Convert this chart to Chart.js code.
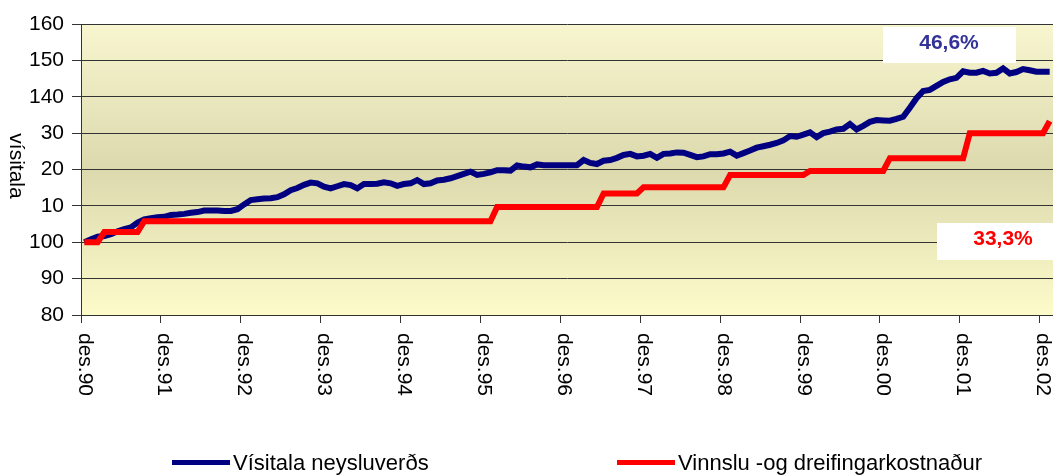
<!DOCTYPE html>
<html>
<head>
<meta charset="utf-8">
<script src="https://cdn.jsdelivr.net/npm/chart.js@4.4.1/dist/chart.umd.min.js"></script>
<style>
  body { margin: 0; background: #fff; }
  #wrap { position: relative; width: 1053px; height: 475px; }
  .leg { position: absolute; top: 450px; font: 22px "Liberation Sans", Arial, sans-serif; color: #000; white-space: nowrap; }
  .leg span.ln { display: inline-block; width: 58px; height: 5px; vertical-align: middle; margin-right: 3px; position: relative; top: -2px; }
</style>
</head>
<body>
<div id="wrap">
  <canvas id="chart" width="1053" height="475"></canvas>
  <div class="leg" style="left:172px"><span class="ln" style="background:#000080"></span>Vísitala neysluverðs</div>
  <div class="leg" style="left:617px"><span class="ln" style="background:#ff0000"></span>Vinnslu -og dreifingarkostnaður</div>
</div>
<script>
// months from des.90 to jan.03
const monthNames = ['jan', 'feb', 'mar', 'apr', 'maí', 'jún', 'júl', 'ágú', 'sep', 'okt', 'nóv', 'des'];
const firstYear = 1990;
const monthCount = 146;

// Vísitala neysluverðs (des.90 = 100)
const consumerIndex = [
  100.0, 100.8, 101.5, 101.7, 102.2, 103.0, 103.6, 104.1, 105.4, 106.3, 106.6, 106.9,
  107.0, 107.5, 107.6, 107.8, 108.1, 108.3, 108.7, 108.7, 108.7, 108.6, 108.6, 109.1,
  110.4, 111.6, 111.8, 112.0, 112.1, 112.4, 113.2, 114.3, 114.9, 115.8, 116.4, 116.2,
  115.3, 114.8, 115.4, 116.0, 115.7, 114.8, 116.0, 116.0, 116.1, 116.5, 116.2, 115.5,
  116.0, 116.2, 117.1, 116.0, 116.2, 117.0, 117.2, 117.6, 118.2, 118.8, 119.4, 118.5,
  118.8, 119.2, 119.8, 119.8, 119.7, 121.1, 120.8, 120.6, 121.4, 121.2, 121.2, 121.2,
  121.2, 121.2, 121.2, 122.6, 121.8, 121.5, 122.4, 122.6, 123.2, 124.0, 124.3, 123.6,
  123.8, 124.3, 123.2, 124.3, 124.4, 124.7, 124.6, 124.0, 123.4, 123.6, 124.2, 124.2,
  124.4, 124.9, 123.8, 124.5, 125.2, 126.0, 126.4, 126.8, 127.3, 128.0, 129.2, 129.0,
  129.6, 130.2, 128.9, 130.0, 130.4, 131.0, 131.2, 132.5, 131.0, 132.0, 133.1, 133.6,
  133.5, 133.4, 133.9, 134.5, 137.0, 139.6, 141.6, 141.9, 143.0, 144.1, 144.8, 145.2,
  147.0, 146.6, 146.6, 147.1, 146.4, 146.6, 147.8, 146.4, 146.8, 147.6, 147.3, 146.9,
  146.9, 146.9
];

// Vinnslu- og dreifingarkostnaður
const distributionCost = [
  100, 100, 100, 102.8, 102.8, 102.8, 102.8, 102.8, 102.8, 105.8, 105.8, 105.8,
  105.8, 105.8, 105.8, 105.8, 105.8, 105.8, 105.8, 105.8, 105.8, 105.8, 105.8, 105.8,
  105.8, 105.8, 105.8, 105.8, 105.8, 105.8, 105.8, 105.8, 105.8, 105.8, 105.8, 105.8,
  105.8, 105.8, 105.8, 105.8, 105.8, 105.8, 105.8, 105.8, 105.8, 105.8, 105.8, 105.8,
  105.8, 105.8, 105.8, 105.8, 105.8, 105.8, 105.8, 105.8, 105.8, 105.8, 105.8, 105.8,
  105.8, 105.8, 109.7, 109.7, 109.7, 109.7, 109.7, 109.7, 109.7, 109.7, 109.7, 109.7,
  109.7, 109.7, 109.7, 109.7, 109.7, 109.7, 113.4, 113.4, 113.4, 113.4, 113.4, 113.4,
  115.1, 115.1, 115.1, 115.1, 115.1, 115.1, 115.1, 115.1, 115.1, 115.1, 115.1, 115.1,
  115.1, 118.5, 118.5, 118.5, 118.5, 118.5, 118.5, 118.5, 118.5, 118.5, 118.5, 118.5,
  118.5, 119.6, 119.6, 119.6, 119.6, 119.6, 119.6, 119.6, 119.6, 119.6, 119.6, 119.6,
  119.6, 123.1, 123.1, 123.1, 123.1, 123.1, 123.1, 123.1, 123.1, 123.1, 123.1, 123.1,
  123.1, 130.0, 130.0, 130.0, 130.0, 130.0, 130.0, 130.0, 130.0, 130.0, 130.0, 130.0,
  130.0, 133.3
];

// y tick labels as they show on the original (the leading 1 is hidden)
const yTickText = { 160: '160', 150: '150', 140: '140', 130: '30', 120: '20', 110: '10', 100: '100', 90: '90', 80: '80' };
const blueNote = '46,6%';
const redNote = '33,3%';

const labels = [];
for (let i = 0; i < monthCount; i++) {
  const m = (11 + i) % 12;
  const y = firstYear + Math.floor((11 + i) / 12);
  labels.push(monthNames[m] + '.' + String(y).slice(2));
}

const FONT = '"Liberation Sans", Arial, sans-serif';

const decor = {
  id: 'decor',
  beforeDraw(chart) {
    const { ctx, chartArea: a } = chart;
    ctx.save();
    ctx.fillStyle = '#fff';
    ctx.fillRect(0, 0, chart.width, chart.height);
    const g = ctx.createLinearGradient(0, a.top, 0, a.bottom);
    g.addColorStop(0, '#f8f6cf');
    g.addColorStop(0.5, '#dcd9ae');
    g.addColorStop(1, '#fdfbca');
    ctx.fillStyle = g;
    ctx.fillRect(a.left, a.top, a.right - a.left, a.bottom - a.top);
    ctx.restore();
  },
  afterDraw(chart) {
    const { ctx } = chart;
    const xs = chart.scales.x;
    ctx.save();
    ctx.fillStyle = '#000';
    ctx.font = '21px ' + FONT;
    ctx.textAlign = 'left';
    ctx.textBaseline = 'middle';
    labels.forEach((lab, i) => {
      if (i % 12 !== 0) return;
      ctx.save();
      ctx.translate(xs.getPixelForValue(i), 333);
      ctx.rotate(Math.PI / 2);
      ctx.fillText(lab, 0, 0);
      ctx.restore();
    });
    // axis title
    ctx.save();
    ctx.translate(16, 166);
    ctx.rotate(Math.PI / 2);
    ctx.textAlign = 'center';
    ctx.fillText('vísitala', 0, 0);
    ctx.restore();

    // value notes
    ctx.fillStyle = '#fff';
    ctx.fillRect(883, 27, 133, 36);
    ctx.fillRect(937, 223, 120, 37);
    ctx.font = 'bold 21px ' + FONT;
    ctx.textAlign = 'center';
    ctx.fillStyle = '#333399';
    ctx.fillText(blueNote, 949, 43);
    ctx.fillStyle = '#ff0000';
    ctx.fillText(redNote, 1003, 239);
    ctx.restore();
  }
};

const ctx = document.getElementById('chart');
new Chart(ctx, {
  type: 'line',
  data: {
    labels: labels,
    datasets: [
      {
        label: 'Vísitala neysluverðs',
        data: consumerIndex,
        borderColor: '#000080',
        borderWidth: 6,
        pointRadius: 0,
        tension: 0,
        order: 1
      },
      {
        label: 'Vinnslu -og dreifingarkostnaður',
        data: distributionCost,
        borderColor: '#ff0000',
        borderWidth: 6,
        pointRadius: 0,
        tension: 0,
        order: 0
      }
    ]
  },
  options: {
    responsive: false,
    animation: false,
    layout: { padding: { top: 24, right: 0, bottom: 0, left: 0 } },
    plugins: { legend: { display: false }, tooltip: { enabled: false } },
    scales: {
      x: {
        offset: true,
        grid: {
          offset: true,
          drawOnChartArea: false,
          tickLength: 8,
          tickColor: c => (c.index % 12 === 0 ? '#333' : 'rgba(0,0,0,0)')
        },
        border: { color: '#333', width: 1 },
        ticks: { display: false, autoSkip: false },
        afterFit(scale) { scale.height = 160; }
      },
      y: {
        min: 80,
        max: 160,
        ticks: {
          stepSize: 10,
          color: '#000',
          padding: 8,
          font: { family: FONT, size: 21 },
          callback: v => yTickText[v]
        },
        grid: { color: '#333', tickLength: 9, tickColor: '#333' },
        border: { color: '#333', width: 1 },
        afterFit(scale) { scale.width = 81; }
      }
    }
  },
  plugins: [decor]
});
</script>
</body>
</html>
